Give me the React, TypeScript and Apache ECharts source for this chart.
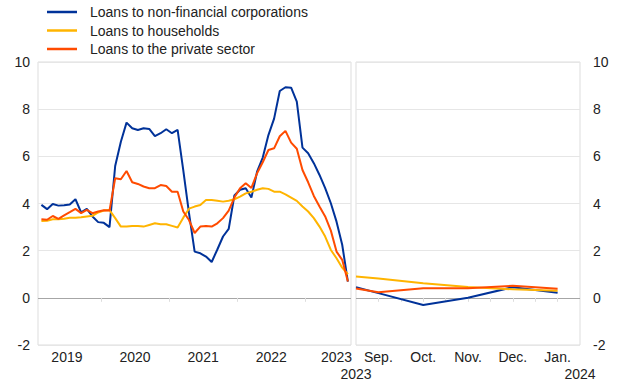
import React, { useEffect, useRef } from 'react';
import * as echarts from 'echarts';

// Monthly categories, left panel (Feb 2019 - Aug 2023)
const leftMonths = [
  '2019-02', '2019-03', '2019-04', '2019-05', '2019-06', '2019-07', '2019-08', '2019-09', '2019-10', '2019-11', '2019-12',
  '2020-01', '2020-02', '2020-03', '2020-04', '2020-05', '2020-06', '2020-07', '2020-08', '2020-09', '2020-10', '2020-11', '2020-12',
  '2021-01', '2021-02', '2021-03', '2021-04', '2021-05', '2021-06', '2021-07', '2021-08', '2021-09', '2021-10', '2021-11', '2021-12',
  '2022-01', '2022-02', '2022-03', '2022-04', '2022-05', '2022-06', '2022-07', '2022-08', '2022-09', '2022-10', '2022-11', '2022-12',
  '2023-01', '2023-02', '2023-03', '2023-04', '2023-05', '2023-06', '2023-07', '2023-08',
];

const nfcLeft = [
  3.94, 3.76, 3.98, 3.91, 3.93, 3.96, 4.18, 3.62, 3.77, 3.45, 3.21,
  3.18, 3.0, 5.59, 6.62, 7.43, 7.19, 7.12, 7.19, 7.16, 6.86, 6.98, 7.15,
  6.98, 7.12, 5.4, 3.6, 1.96, 1.89, 1.75, 1.52, 2.05, 2.6, 2.92, 4.34,
  4.58, 4.65, 4.25, 5.35, 5.95, 6.9, 7.6, 8.77, 8.93, 8.91, 8.32, 6.37,
  6.13, 5.71, 5.21, 4.65, 4.01, 3.23, 2.25, 0.69,
];

const hhLeft = [
  3.26, 3.27, 3.33, 3.33, 3.35, 3.4, 3.4, 3.42, 3.45, 3.48, 3.62,
  3.7, 3.72, 3.38, 3.02, 3.02, 3.05, 3.05, 3.02, 3.09, 3.16, 3.12, 3.12,
  3.05, 2.98, 3.4, 3.78, 3.87, 3.94, 4.15, 4.15, 4.12, 4.08, 4.12, 4.18,
  4.29, 4.43, 4.5, 4.58, 4.65, 4.62, 4.5, 4.5, 4.39, 4.25, 4.11, 3.87,
  3.66, 3.38, 3.02, 2.6, 2.03, 1.68, 1.28, 1.0,
];

const pspLeft = [
  3.33, 3.31, 3.47, 3.35, 3.5, 3.63, 3.77, 3.59, 3.73, 3.59, 3.66,
  3.71, 3.7, 5.07, 5.03, 5.38, 4.9, 4.83, 4.72, 4.65, 4.65, 4.78, 4.74,
  4.5, 4.5, 3.66, 3.3, 2.75, 3.02, 3.05, 3.02, 3.16, 3.38, 3.7, 4.25,
  4.65, 4.86, 4.66, 5.28, 5.75, 6.27, 6.34, 6.85, 7.08, 6.58, 6.32, 5.42,
  4.9, 4.32, 3.87, 3.45, 2.85, 1.96, 1.61, 0.69,
];

// Right panel (Sep 2023 - Jan 2024), with the value at the panel's left edge
const rightMonths = ['Sep.', 'Oct.', 'Nov.', 'Dec.', 'Jan.'];
const nfcRightStart = 0.45;
const hhRightStart = 0.9;
const pspRightStart = 0.4;
const nfcRight = [0.2, -0.3, 0.0, 0.45, 0.22];
const hhRight = [0.82, 0.62, 0.46, 0.36, 0.3];
const pspRight = [0.24, 0.41, 0.41, 0.51, 0.38];

const leftYearLabels = ['2019', '2020', '2021', '2022', '2023'];
const leftYearLabelPos = [5.5, 17.5, 29.5, 41.5, 53];
const leftYearTicks = [11.5, 23.5, 35.5, 47.5];
const rightEdgeYears = ['2023', '2024'];

const seriesNames = [
  'Loans to non-financial corporations',
  'Loans to households',
  'Loans to the private sector',
];
const colors = ['#003299', '#ffb400', '#ff4b00'];

const FONT = '"Liberation Sans", Arial, Helvetica, sans-serif';
const TXT = '#222222';

function monthIndex(m: string): number {
  const [y, mo] = m.split('-').map(Number);
  return (y - 2019) * 12 + (mo - 1);
}

export default function App() {
  const ref = useRef<HTMLDivElement>(null);

  useEffect(() => {
    if (!ref.current) return;
    const chart = echarts.init(ref.current, undefined, { renderer: 'svg' });

    const leftX = leftMonths.map(monthIndex);
    const leftData = [nfcLeft, hhLeft, pspLeft].map((arr) => arr.map((v, i) => [leftX[i], v]));
    const rightStarts = [nfcRightStart, hhRightStart, pspRightStart];
    const rightData = [nfcRight, hhRight, pspRight].map((arr, k) => [
      [-0.5, rightStarts[k]],
      ...arr.map((v, i) => [i, v]),
    ]);

    const splitColors = ['#e6e6e6', '#a6a6a6', '#e6e6e6', '#e6e6e6', '#e6e6e6', '#e6e6e6', '#e6e6e6'];

    const yAxisBase = {
      type: 'value',
      min: -2,
      max: 10,
      interval: 2,
      axisLine: { show: false },
      axisTick: { show: false },
      splitLine: { show: true, lineStyle: { color: splitColors, width: 1 } },
      axisLabel: { fontSize: 14, color: TXT, fontFamily: FONT },
    };

    const option: any = {
      animation: false,
      textStyle: { fontFamily: FONT },
      color: colors,
      legend: {
        show: true,
        orient: 'vertical',
        left: 47,
        top: 4,
        padding: 0,
        itemGap: 2.5,
        itemWidth: 30,
        itemHeight: 2.5,
        icon: 'rect',
        data: seriesNames,
        textStyle: { fontSize: 14, color: TXT, lineHeight: 16, padding: [0, 0, 0, 8], fontFamily: FONT },
      },
      grid: [
        { left: 38, top: 62, width: 313, height: 283, show: true, borderColor: '#dddddd', borderWidth: 1, containLabel: false },
        { left: 356, top: 62, width: 224, height: 283, show: true, borderColor: '#dddddd', borderWidth: 1, containLabel: false },
      ],
      xAxis: [
        {
          type: 'value',
          gridIndex: 0,
          min: 0.4,
          max: 55.55,
          axisLine: { show: false },
          splitLine: { show: false },
          axisTick: { show: true, customValues: leftYearTicks, length: 4, lineStyle: { color: '#dddddd' } },
          axisLabel: {
            customValues: leftYearLabelPos,
            formatter: (v: number) => {
              const i = leftYearLabelPos.indexOf(v);
              return i >= 0 ? leftYearLabels[i] : '';
            },
            fontSize: 14,
            color: TXT,
            margin: 5,
            fontFamily: FONT,
          },
        },
        {
          type: 'value',
          gridIndex: 1,
          position: 'bottom',
          min: -0.5,
          max: 4.5,
          axisLine: { show: false },
          splitLine: { show: false },
          axisTick: { show: true, customValues: [0, 0.5, 1, 1.5, 2, 2.5, 3, 3.5, 4], length: 4, lineStyle: { color: '#dddddd' } },
          axisLabel: {
            customValues: [0, 1, 2, 3, 4],
            formatter: (v: number) => rightMonths[Math.round(v)] ?? '',
            fontSize: 14,
            color: TXT,
            margin: 5,
            fontFamily: FONT,
            showMinLabel: true,
            showMaxLabel: true,
            hideOverlap: false,
          },
        },
        {
          type: 'value',
          gridIndex: 1,
          position: 'bottom',
          offset: 0,
          min: -0.5,
          max: 4.5,
          axisLine: { show: false },
          splitLine: { show: false },
          axisTick: { show: false },
          axisLabel: {
            customValues: [-0.5, 4.5],
            formatter: (v: number) => (v < 2 ? rightEdgeYears[0] : rightEdgeYears[1]),
            fontSize: 14,
            color: TXT,
            margin: 22,
            fontFamily: FONT,
            showMinLabel: true,
            showMaxLabel: true,
            hideOverlap: false,
          },
        },
      ],
      yAxis: [
        { ...yAxisBase, gridIndex: 0, position: 'left', axisLabel: { ...yAxisBase.axisLabel, margin: 8 } },
        { ...yAxisBase, gridIndex: 1, position: 'right', axisLabel: { ...yAxisBase.axisLabel, margin: 13 } },
      ],
      series: [
        ...leftData.map((d, k) => ({
          name: seriesNames[k],
          type: 'line',
          xAxisIndex: 0,
          yAxisIndex: 0,
          data: d,
          showSymbol: false,
          symbol: 'none',
          lineStyle: { width: 2, color: colors[k] },
          itemStyle: { color: colors[k] },
          z: 2 + k,
        })),
        ...rightData.map((d, k) => ({
          name: seriesNames[k],
          type: 'line',
          xAxisIndex: 1,
          yAxisIndex: 1,
          data: d,
          showSymbol: false,
          symbol: 'none',
          lineStyle: { width: 2, color: colors[k] },
          itemStyle: { color: colors[k] },
          z: 2 + k,
        })),
      ],
    };

    chart.setOption(option);
    return () => chart.dispose();
  }, []);

  return (
    <div
      ref={ref}
      style={{ position: 'fixed', left: 0, top: 0, width: 620, height: 387, background: '#ffffff' }}
    />
  );
}
